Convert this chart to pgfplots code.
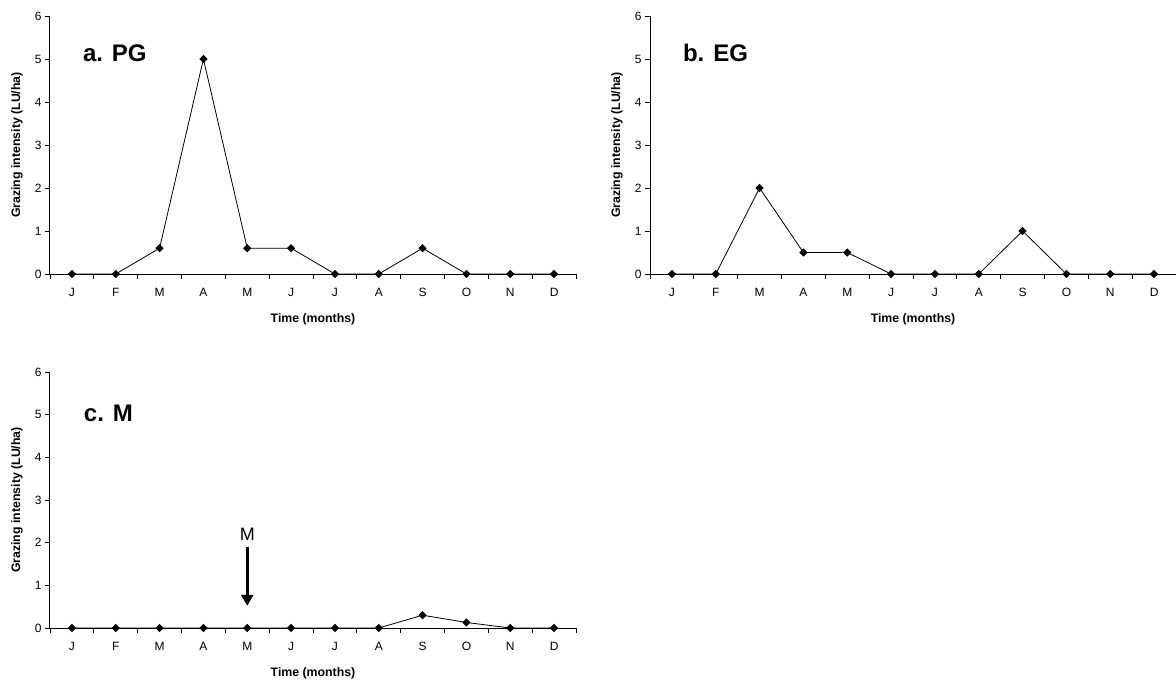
\documentclass[border=0pt]{standalone}
\usepackage{fontspec}
\setmainfont{Liberation Sans}
\usepackage{pgfplots}
\pgfplotsset{compat=1.18}
\usetikzlibrary{arrows.meta}
\pgfplotsset{
  gz/.style={
    scale only axis, width=526pt, height=258pt,
    xmin=-0.5, xmax=11.5, ymin=0, ymax=6,
    axis x line*=bottom, axis y line*=left,
    axis line style={black, line width=1pt},
    xtick={0,...,11}, xticklabels={J,F,M,A,M,J,J,A,S,O,N,D},
    minor xtick={-0.5,0.5,...,11.5},
    ytick={0,...,6},
    tick align=outside,
    major tick length=5pt, minor tick length=5pt,
    tick style={black, line width=0.9pt},
    major x tick style={draw=none},
    ticklabel style={font=\fontsize{12}{14}\selectfont},
    xticklabel style={yshift=-6pt},
    /pgf/number format/assume math mode=true,
    xlabel={Time (months)}, ylabel={Grazing intensity (LU/ha)},
    every axis x label/.style={at={(axis description cs:0.5,0)}, yshift=-45pt, anchor=center, font=\bfseries\fontsize{12.3}{14}\selectfont},
    every axis y label/.style={at={(axis description cs:0,0.5)}, xshift=-33pt, anchor=center, rotate=90, font=\bfseries\fontsize{12.3}{14}\selectfont},
    clip=false,
  },
  ser/.style={black, line width=0.8pt, mark=square*, mark size=2.5pt, mark options={solid, fill=black, rotate=45}},
}
\tikzset{ttl/.style={font=\bfseries\fontsize{24}{26}\selectfont, anchor=base west, inner sep=0pt}}
\begin{document}
\begin{tikzpicture}
\useasboundingbox (0,0) rectangle (1176pt,-680pt);
% a. PG
\begin{axis}[gz, at={(50pt,-274pt)}, anchor=south west]
\addplot[ser] coordinates {(0,0) (1,0) (2,0.6) (3,5) (4,0.6) (5,0.6) (6,0) (7,0) (8,0.6) (9,0) (10,0) (11,0)};
\node[ttl] at (axis cs:0.25,4.95) {a. PG};
\end{axis}
% b. EG
\begin{axis}[gz, at={(650pt,-274pt)}, anchor=south west]
\addplot[ser] coordinates {(0,0) (1,0) (2,2) (3,0.5) (4,0.5) (5,0) (6,0) (7,0) (8,1) (9,0) (10,0) (11,0)};
\node[ttl] at (axis cs:0.25,4.95) {b. EG};
\end{axis}
% c. M
\begin{axis}[gz, height=256pt, at={(50pt,-628pt)}, anchor=south west]
\addplot[ser] coordinates {(0,0) (1,0) (2,0) (3,0) (4,0) (5,0) (6,0) (7,0) (8,0.3) (9,0.13) (10,0) (11,0)};
\node[ttl] at (axis cs:0.27,4.83) {c. M};
\node[font=\fontsize{18}{20}\selectfont, anchor=base, inner sep=0pt] at (axis cs:4,2.06) {M};
\draw[line width=3.5pt, -{Triangle[width=12pt,length=11pt]}] (axis cs:4,1.9) -- (axis cs:4,0.52);
\end{axis}
\end{tikzpicture}
\end{document}
